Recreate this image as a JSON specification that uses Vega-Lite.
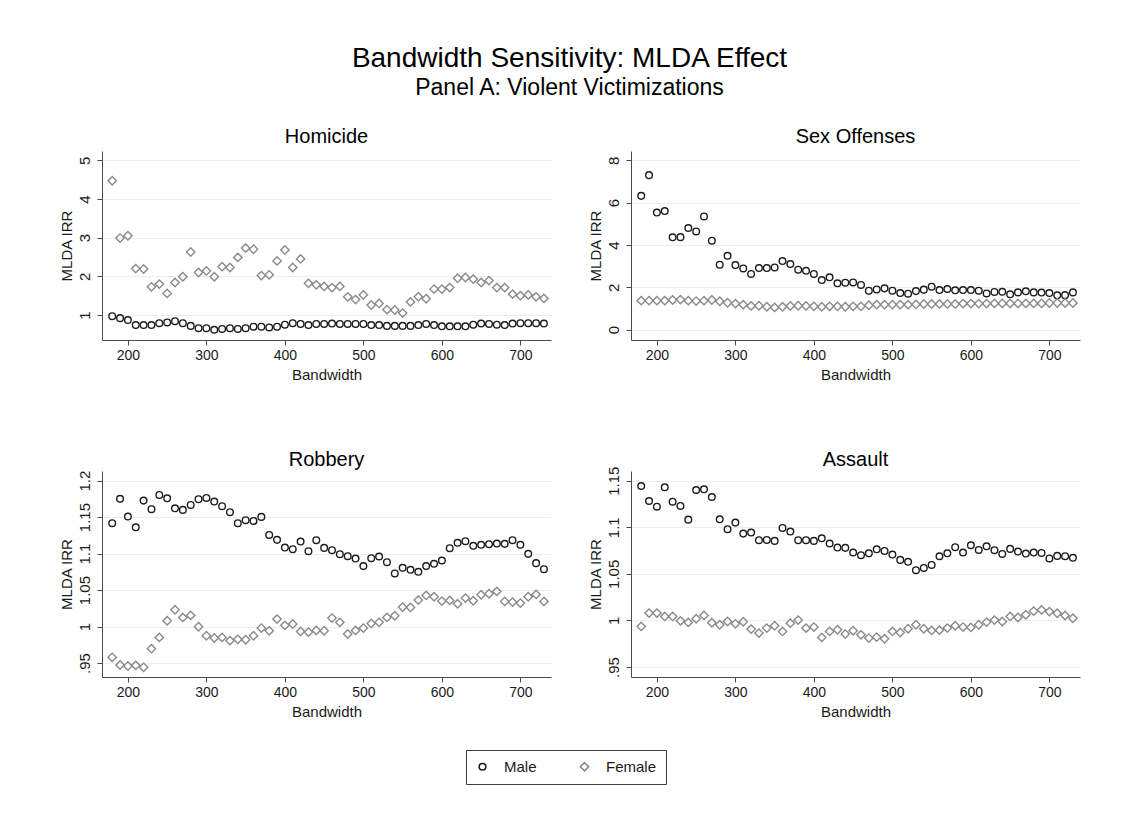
{
  "$schema": "https://vega.github.io/schema/vega-lite/v6.json",
  "background": "white",
  "padding": {"left": 59, "top": 44, "right": 30, "bottom": 20},
  "title": {
    "text": "Bandwidth Sensitivity: MLDA Effect",
    "subtitle": "Panel A: Violent Victimizations",
    "anchor": "middle",
    "fontSize": 28,
    "subtitleFontSize": 23,
    "subtitlePadding": 4,
    "offset": 27
  },
  "datasets": {
    "irr": [
      {"crime": "Homicide", "bw": 180, "Male": 0.97, "Female": 4.47},
      {"crime": "Homicide", "bw": 190, "Male": 0.92, "Female": 2.99},
      {"crime": "Homicide", "bw": 200, "Male": 0.87, "Female": 3.05},
      {"crime": "Homicide", "bw": 210, "Male": 0.74, "Female": 2.20},
      {"crime": "Homicide", "bw": 220, "Male": 0.74, "Female": 2.19},
      {"crime": "Homicide", "bw": 230, "Male": 0.74, "Female": 1.73},
      {"crime": "Homicide", "bw": 240, "Male": 0.79, "Female": 1.80},
      {"crime": "Homicide", "bw": 250, "Male": 0.81, "Female": 1.56},
      {"crime": "Homicide", "bw": 260, "Male": 0.84, "Female": 1.84},
      {"crime": "Homicide", "bw": 270, "Male": 0.79, "Female": 1.99},
      {"crime": "Homicide", "bw": 280, "Male": 0.72, "Female": 2.63},
      {"crime": "Homicide", "bw": 290, "Male": 0.66, "Female": 2.10},
      {"crime": "Homicide", "bw": 300, "Male": 0.66, "Female": 2.14},
      {"crime": "Homicide", "bw": 310, "Male": 0.62, "Female": 1.99},
      {"crime": "Homicide", "bw": 320, "Male": 0.64, "Female": 2.25},
      {"crime": "Homicide", "bw": 330, "Male": 0.66, "Female": 2.23},
      {"crime": "Homicide", "bw": 340, "Male": 0.64, "Female": 2.49},
      {"crime": "Homicide", "bw": 350, "Male": 0.66, "Female": 2.73},
      {"crime": "Homicide", "bw": 360, "Male": 0.70, "Female": 2.70},
      {"crime": "Homicide", "bw": 370, "Male": 0.70, "Female": 2.02},
      {"crime": "Homicide", "bw": 380, "Male": 0.68, "Female": 2.04},
      {"crime": "Homicide", "bw": 390, "Male": 0.70, "Female": 2.40},
      {"crime": "Homicide", "bw": 400, "Male": 0.75, "Female": 2.68},
      {"crime": "Homicide", "bw": 410, "Male": 0.79, "Female": 2.23},
      {"crime": "Homicide", "bw": 420, "Male": 0.77, "Female": 2.45},
      {"crime": "Homicide", "bw": 430, "Male": 0.74, "Female": 1.82},
      {"crime": "Homicide", "bw": 440, "Male": 0.77, "Female": 1.78},
      {"crime": "Homicide", "bw": 450, "Male": 0.77, "Female": 1.74},
      {"crime": "Homicide", "bw": 460, "Male": 0.78, "Female": 1.71},
      {"crime": "Homicide", "bw": 470, "Male": 0.77, "Female": 1.74},
      {"crime": "Homicide", "bw": 480, "Male": 0.77, "Female": 1.47},
      {"crime": "Homicide", "bw": 490, "Male": 0.77, "Female": 1.40},
      {"crime": "Homicide", "bw": 500, "Male": 0.77, "Female": 1.52},
      {"crime": "Homicide", "bw": 510, "Male": 0.74, "Female": 1.26},
      {"crime": "Homicide", "bw": 520, "Male": 0.74, "Female": 1.30},
      {"crime": "Homicide", "bw": 530, "Male": 0.72, "Female": 1.14},
      {"crime": "Homicide", "bw": 540, "Male": 0.72, "Female": 1.13},
      {"crime": "Homicide", "bw": 550, "Male": 0.72, "Female": 1.05},
      {"crime": "Homicide", "bw": 560, "Male": 0.72, "Female": 1.34},
      {"crime": "Homicide", "bw": 570, "Male": 0.74, "Female": 1.47},
      {"crime": "Homicide", "bw": 580, "Male": 0.77, "Female": 1.42},
      {"crime": "Homicide", "bw": 590, "Male": 0.74, "Female": 1.67},
      {"crime": "Homicide", "bw": 600, "Male": 0.71, "Female": 1.67},
      {"crime": "Homicide", "bw": 610, "Male": 0.71, "Female": 1.71},
      {"crime": "Homicide", "bw": 620, "Male": 0.71, "Female": 1.95},
      {"crime": "Homicide", "bw": 630, "Male": 0.71, "Female": 1.97},
      {"crime": "Homicide", "bw": 640, "Male": 0.75, "Female": 1.93},
      {"crime": "Homicide", "bw": 650, "Male": 0.78, "Female": 1.84},
      {"crime": "Homicide", "bw": 660, "Male": 0.77, "Female": 1.89},
      {"crime": "Homicide", "bw": 670, "Male": 0.75, "Female": 1.71},
      {"crime": "Homicide", "bw": 680, "Male": 0.74, "Female": 1.71},
      {"crime": "Homicide", "bw": 690, "Male": 0.78, "Female": 1.54},
      {"crime": "Homicide", "bw": 700, "Male": 0.79, "Female": 1.50},
      {"crime": "Homicide", "bw": 710, "Male": 0.79, "Female": 1.52},
      {"crime": "Homicide", "bw": 720, "Male": 0.79, "Female": 1.47},
      {"crime": "Homicide", "bw": 730, "Male": 0.78, "Female": 1.43},

      {"crime": "Sex Offenses", "bw": 180, "Male": 6.32, "Female": 1.37},
      {"crime": "Sex Offenses", "bw": 190, "Male": 7.30, "Female": 1.37},
      {"crime": "Sex Offenses", "bw": 200, "Male": 5.53, "Female": 1.37},
      {"crime": "Sex Offenses", "bw": 210, "Male": 5.60, "Female": 1.37},
      {"crime": "Sex Offenses", "bw": 220, "Male": 4.36, "Female": 1.40},
      {"crime": "Sex Offenses", "bw": 230, "Male": 4.37, "Female": 1.42},
      {"crime": "Sex Offenses", "bw": 240, "Male": 4.80, "Female": 1.37},
      {"crime": "Sex Offenses", "bw": 250, "Male": 4.64, "Female": 1.35},
      {"crime": "Sex Offenses", "bw": 260, "Male": 5.35, "Female": 1.37},
      {"crime": "Sex Offenses", "bw": 270, "Male": 4.20, "Female": 1.40},
      {"crime": "Sex Offenses", "bw": 280, "Male": 3.07, "Female": 1.34},
      {"crime": "Sex Offenses", "bw": 290, "Male": 3.49, "Female": 1.27},
      {"crime": "Sex Offenses", "bw": 300, "Male": 3.05, "Female": 1.23},
      {"crime": "Sex Offenses", "bw": 310, "Male": 2.89, "Female": 1.18},
      {"crime": "Sex Offenses", "bw": 320, "Male": 2.63, "Female": 1.12},
      {"crime": "Sex Offenses", "bw": 330, "Male": 2.91, "Female": 1.13},
      {"crime": "Sex Offenses", "bw": 340, "Male": 2.91, "Female": 1.08},
      {"crime": "Sex Offenses", "bw": 350, "Male": 2.94, "Female": 1.05},
      {"crime": "Sex Offenses", "bw": 360, "Male": 3.24, "Female": 1.08},
      {"crime": "Sex Offenses", "bw": 370, "Male": 3.10, "Female": 1.12},
      {"crime": "Sex Offenses", "bw": 380, "Male": 2.83, "Female": 1.13},
      {"crime": "Sex Offenses", "bw": 390, "Male": 2.78, "Female": 1.12},
      {"crime": "Sex Offenses", "bw": 400, "Male": 2.63, "Female": 1.10},
      {"crime": "Sex Offenses", "bw": 410, "Male": 2.34, "Female": 1.08},
      {"crime": "Sex Offenses", "bw": 420, "Male": 2.47, "Female": 1.10},
      {"crime": "Sex Offenses", "bw": 430, "Male": 2.19, "Female": 1.10},
      {"crime": "Sex Offenses", "bw": 440, "Male": 2.22, "Female": 1.08},
      {"crime": "Sex Offenses", "bw": 450, "Male": 2.23, "Female": 1.10},
      {"crime": "Sex Offenses", "bw": 460, "Male": 2.11, "Female": 1.10},
      {"crime": "Sex Offenses", "bw": 470, "Male": 1.84, "Female": 1.15},
      {"crime": "Sex Offenses", "bw": 480, "Male": 1.90, "Female": 1.18},
      {"crime": "Sex Offenses", "bw": 490, "Male": 1.95, "Female": 1.18},
      {"crime": "Sex Offenses", "bw": 500, "Male": 1.84, "Female": 1.18},
      {"crime": "Sex Offenses", "bw": 510, "Male": 1.73, "Female": 1.18},
      {"crime": "Sex Offenses", "bw": 520, "Male": 1.70, "Female": 1.18},
      {"crime": "Sex Offenses", "bw": 530, "Male": 1.82, "Female": 1.19},
      {"crime": "Sex Offenses", "bw": 540, "Male": 1.89, "Female": 1.21},
      {"crime": "Sex Offenses", "bw": 550, "Male": 2.03, "Female": 1.21},
      {"crime": "Sex Offenses", "bw": 560, "Male": 1.87, "Female": 1.21},
      {"crime": "Sex Offenses", "bw": 570, "Male": 1.92, "Female": 1.21},
      {"crime": "Sex Offenses", "bw": 580, "Male": 1.86, "Female": 1.21},
      {"crime": "Sex Offenses", "bw": 590, "Male": 1.87, "Female": 1.23},
      {"crime": "Sex Offenses", "bw": 600, "Male": 1.87, "Female": 1.23},
      {"crime": "Sex Offenses", "bw": 610, "Male": 1.84, "Female": 1.23},
      {"crime": "Sex Offenses", "bw": 620, "Male": 1.71, "Female": 1.23},
      {"crime": "Sex Offenses", "bw": 630, "Male": 1.78, "Female": 1.24},
      {"crime": "Sex Offenses", "bw": 640, "Male": 1.79, "Female": 1.24},
      {"crime": "Sex Offenses", "bw": 650, "Male": 1.67, "Female": 1.24},
      {"crime": "Sex Offenses", "bw": 660, "Male": 1.76, "Female": 1.24},
      {"crime": "Sex Offenses", "bw": 670, "Male": 1.81, "Female": 1.24},
      {"crime": "Sex Offenses", "bw": 680, "Male": 1.76, "Female": 1.24},
      {"crime": "Sex Offenses", "bw": 690, "Male": 1.75, "Female": 1.24},
      {"crime": "Sex Offenses", "bw": 700, "Male": 1.73, "Female": 1.26},
      {"crime": "Sex Offenses", "bw": 710, "Male": 1.62, "Female": 1.26},
      {"crime": "Sex Offenses", "bw": 720, "Male": 1.63, "Female": 1.26},
      {"crime": "Sex Offenses", "bw": 730, "Male": 1.76, "Female": 1.26},

      {"crime": "Robbery", "bw": 180, "Male": 1.1416, "Female": 0.9578},
      {"crime": "Robbery", "bw": 190, "Male": 1.1750, "Female": 0.9473},
      {"crime": "Robbery", "bw": 200, "Male": 1.1507, "Female": 0.9459},
      {"crime": "Robbery", "bw": 210, "Male": 1.1360, "Female": 0.9468},
      {"crime": "Robbery", "bw": 220, "Male": 1.1726, "Female": 0.9441},
      {"crime": "Robbery", "bw": 230, "Male": 1.1608, "Female": 0.9696},
      {"crime": "Robbery", "bw": 240, "Male": 1.1804, "Female": 0.9851},
      {"crime": "Robbery", "bw": 250, "Male": 1.1758, "Female": 1.0079},
      {"crime": "Robbery", "bw": 260, "Male": 1.1621, "Female": 1.0230},
      {"crime": "Robbery", "bw": 270, "Male": 1.1599, "Female": 1.0125},
      {"crime": "Robbery", "bw": 280, "Male": 1.1667, "Female": 1.0152},
      {"crime": "Robbery", "bw": 290, "Male": 1.1745, "Female": 0.9997},
      {"crime": "Robbery", "bw": 300, "Male": 1.1763, "Female": 0.9874},
      {"crime": "Robbery", "bw": 310, "Male": 1.1713, "Female": 0.9842},
      {"crime": "Robbery", "bw": 320, "Male": 1.1649, "Female": 0.9851},
      {"crime": "Robbery", "bw": 330, "Male": 1.1567, "Female": 0.9806},
      {"crime": "Robbery", "bw": 340, "Male": 1.1416, "Female": 0.9824},
      {"crime": "Robbery", "bw": 350, "Male": 1.1457, "Female": 0.9819},
      {"crime": "Robbery", "bw": 360, "Male": 1.1448, "Female": 0.9874},
      {"crime": "Robbery", "bw": 370, "Male": 1.1503, "Female": 0.9979},
      {"crime": "Robbery", "bw": 380, "Male": 1.1256, "Female": 0.9942},
      {"crime": "Robbery", "bw": 390, "Male": 1.1188, "Female": 1.0102},
      {"crime": "Robbery", "bw": 400, "Male": 1.1083, "Female": 1.0016},
      {"crime": "Robbery", "bw": 410, "Male": 1.1060, "Female": 1.0034},
      {"crime": "Robbery", "bw": 420, "Male": 1.1165, "Female": 0.9933},
      {"crime": "Robbery", "bw": 430, "Male": 1.1033, "Female": 0.9924},
      {"crime": "Robbery", "bw": 440, "Male": 1.1183, "Female": 0.9947},
      {"crime": "Robbery", "bw": 450, "Male": 1.1078, "Female": 0.9942},
      {"crime": "Robbery", "bw": 460, "Male": 1.1047, "Female": 1.0116},
      {"crime": "Robbery", "bw": 470, "Male": 1.0992, "Female": 1.0057},
      {"crime": "Robbery", "bw": 480, "Male": 1.0964, "Female": 0.9897},
      {"crime": "Robbery", "bw": 490, "Male": 1.0932, "Female": 0.9947},
      {"crime": "Robbery", "bw": 500, "Male": 1.0828, "Female": 0.9979},
      {"crime": "Robbery", "bw": 510, "Male": 1.0937, "Female": 1.0043},
      {"crime": "Robbery", "bw": 520, "Male": 1.0960, "Female": 1.0057},
      {"crime": "Robbery", "bw": 530, "Male": 1.0882, "Female": 1.0125},
      {"crime": "Robbery", "bw": 540, "Male": 1.0727, "Female": 1.0148},
      {"crime": "Robbery", "bw": 550, "Male": 1.0805, "Female": 1.0266},
      {"crime": "Robbery", "bw": 560, "Male": 1.0777, "Female": 1.0262},
      {"crime": "Robbery", "bw": 570, "Male": 1.0750, "Female": 1.0362},
      {"crime": "Robbery", "bw": 580, "Male": 1.0828, "Female": 1.0426},
      {"crime": "Robbery", "bw": 590, "Male": 1.0860, "Female": 1.0408},
      {"crime": "Robbery", "bw": 600, "Male": 1.0905, "Female": 1.0349},
      {"crime": "Robbery", "bw": 610, "Male": 1.1074, "Female": 1.0358},
      {"crime": "Robbery", "bw": 620, "Male": 1.1147, "Female": 1.0312},
      {"crime": "Robbery", "bw": 630, "Male": 1.1170, "Female": 1.0390},
      {"crime": "Robbery", "bw": 640, "Male": 1.1106, "Female": 1.0353},
      {"crime": "Robbery", "bw": 650, "Male": 1.1120, "Female": 1.0435},
      {"crime": "Robbery", "bw": 660, "Male": 1.1129, "Female": 1.0449},
      {"crime": "Robbery", "bw": 670, "Male": 1.1138, "Female": 1.0481},
      {"crime": "Robbery", "bw": 680, "Male": 1.1133, "Female": 1.0344},
      {"crime": "Robbery", "bw": 690, "Male": 1.1183, "Female": 1.0335},
      {"crime": "Robbery", "bw": 700, "Male": 1.1120, "Female": 1.0321},
      {"crime": "Robbery", "bw": 710, "Male": 1.0996, "Female": 1.0408},
      {"crime": "Robbery", "bw": 720, "Male": 1.0869, "Female": 1.0440},
      {"crime": "Robbery", "bw": 730, "Male": 1.0786, "Female": 1.0344},

      {"crime": "Assault", "bw": 180, "Male": 1.1443, "Female": 0.9936},
      {"crime": "Assault", "bw": 190, "Male": 1.1282, "Female": 1.0079},
      {"crime": "Assault", "bw": 200, "Male": 1.1221, "Female": 1.0079},
      {"crime": "Assault", "bw": 210, "Male": 1.1429, "Female": 1.0043},
      {"crime": "Assault", "bw": 220, "Male": 1.1275, "Female": 1.0043},
      {"crime": "Assault", "bw": 230, "Male": 1.1229, "Female": 0.9996},
      {"crime": "Assault", "bw": 240, "Male": 1.1082, "Female": 0.9979},
      {"crime": "Assault", "bw": 250, "Male": 1.1400, "Female": 1.0018},
      {"crime": "Assault", "bw": 260, "Male": 1.1407, "Female": 1.0054},
      {"crime": "Assault", "bw": 270, "Male": 1.1325, "Female": 0.9975},
      {"crime": "Assault", "bw": 280, "Male": 1.1086, "Female": 0.9954},
      {"crime": "Assault", "bw": 290, "Male": 1.0979, "Female": 0.9989},
      {"crime": "Assault", "bw": 300, "Male": 1.1050, "Female": 0.9964},
      {"crime": "Assault", "bw": 310, "Male": 1.0932, "Female": 0.9986},
      {"crime": "Assault", "bw": 320, "Male": 1.0943, "Female": 0.9907},
      {"crime": "Assault", "bw": 330, "Male": 1.0861, "Female": 0.9864},
      {"crime": "Assault", "bw": 340, "Male": 1.0864, "Female": 0.9918},
      {"crime": "Assault", "bw": 350, "Male": 1.0854, "Female": 0.9943},
      {"crime": "Assault", "bw": 360, "Male": 1.0993, "Female": 0.9882},
      {"crime": "Assault", "bw": 370, "Male": 1.0954, "Female": 0.9971},
      {"crime": "Assault", "bw": 380, "Male": 1.0861, "Female": 1.0004},
      {"crime": "Assault", "bw": 390, "Male": 1.0861, "Female": 0.9918},
      {"crime": "Assault", "bw": 400, "Male": 1.0854, "Female": 0.9929},
      {"crime": "Assault", "bw": 410, "Male": 1.0882, "Female": 0.9818},
      {"crime": "Assault", "bw": 420, "Male": 1.0825, "Female": 0.9882},
      {"crime": "Assault", "bw": 430, "Male": 1.0782, "Female": 0.9900},
      {"crime": "Assault", "bw": 440, "Male": 1.0779, "Female": 0.9854},
      {"crime": "Assault", "bw": 450, "Male": 1.0729, "Female": 0.9889},
      {"crime": "Assault", "bw": 460, "Male": 1.0700, "Female": 0.9846},
      {"crime": "Assault", "bw": 470, "Male": 1.0721, "Female": 0.9811},
      {"crime": "Assault", "bw": 480, "Male": 1.0764, "Female": 0.9821},
      {"crime": "Assault", "bw": 490, "Male": 1.0746, "Female": 0.9804},
      {"crime": "Assault", "bw": 500, "Male": 1.0707, "Female": 0.9882},
      {"crime": "Assault", "bw": 510, "Male": 1.0650, "Female": 0.9871},
      {"crime": "Assault", "bw": 520, "Male": 1.0629, "Female": 0.9911},
      {"crime": "Assault", "bw": 530, "Male": 1.0539, "Female": 0.9954},
      {"crime": "Assault", "bw": 540, "Male": 1.0564, "Female": 0.9911},
      {"crime": "Assault", "bw": 550, "Male": 1.0596, "Female": 0.9893},
      {"crime": "Assault", "bw": 560, "Male": 1.0689, "Female": 0.9896},
      {"crime": "Assault", "bw": 570, "Male": 1.0721, "Female": 0.9918},
      {"crime": "Assault", "bw": 580, "Male": 1.0786, "Female": 0.9943},
      {"crime": "Assault", "bw": 590, "Male": 1.0729, "Female": 0.9929},
      {"crime": "Assault", "bw": 600, "Male": 1.0807, "Female": 0.9925},
      {"crime": "Assault", "bw": 610, "Male": 1.0757, "Female": 0.9954},
      {"crime": "Assault", "bw": 620, "Male": 1.0796, "Female": 0.9982},
      {"crime": "Assault", "bw": 630, "Male": 1.0754, "Female": 1.0004},
      {"crime": "Assault", "bw": 640, "Male": 1.0714, "Female": 0.9989},
      {"crime": "Assault", "bw": 650, "Male": 1.0768, "Female": 1.0043},
      {"crime": "Assault", "bw": 660, "Male": 1.0739, "Female": 1.0032},
      {"crime": "Assault", "bw": 670, "Male": 1.0718, "Female": 1.0061},
      {"crime": "Assault", "bw": 680, "Male": 1.0729, "Female": 1.0100},
      {"crime": "Assault", "bw": 690, "Male": 1.0725, "Female": 1.0113},
      {"crime": "Assault", "bw": 700, "Male": 1.0665, "Female": 1.0095},
      {"crime": "Assault", "bw": 710, "Male": 1.0693, "Female": 1.0077},
      {"crime": "Assault", "bw": 720, "Male": 1.0690, "Female": 1.0053},
      {"crime": "Assault", "bw": 730, "Male": 1.0672, "Female": 1.0024}
    ]
  },
  "data": {"name": "irr"},
  "vconcat": [
    {
      "hconcat": [
        {
          "title": {"text": "Homicide", "offset": 4.5},
          "width": 449, "height": 189,
          "transform": [{"filter": "datum.crime === 'Homicide'"}, {"fold": ["Male", "Female"], "as": ["sex", "irr"]}],
          "mark": {"type": "point", "filled": false, "strokeWidth": 1.4, "opacity": 1},
          "encoding": {
            "x": {"field": "bw", "type": "quantitative", "title": "Bandwidth", "scale": {"domain": [167, 739], "nice": false, "zero": false}, "axis": {"values": [200, 300, 400, 500, 600, 700], "grid": false}},
            "y": {"field": "irr", "type": "quantitative", "title": "MLDA IRR", "scale": {"domain": [0.355, 5.24], "nice": false, "zero": false}, "axis": {"values": [1, 2, 3, 4, 5]}},
            "shape": {"field": "sex", "type": "nominal", "scale": {"domain": ["Male", "Female"], "range": ["circle", "diamond"]}, "legend": {"title": null}},
            "color": {"field": "sex", "type": "nominal", "scale": {"domain": ["Male", "Female"], "range": ["#1c1c1c", "#8a8a8a"]}, "legend": {"title": null}},
            "size": {"field": "sex", "type": "nominal", "scale": {"domain": ["Male", "Female"], "range": [44, 70]}, "legend": null}
          }
        },
        {
          "title": {"text": "Sex Offenses", "offset": 4.5},
          "width": 449, "height": 189,
          "transform": [{"filter": "datum.crime === 'Sex Offenses'"}, {"fold": ["Male", "Female"], "as": ["sex", "irr"]}],
          "mark": {"type": "point", "filled": false, "strokeWidth": 1.4, "opacity": 1},
          "encoding": {
            "x": {"field": "bw", "type": "quantitative", "title": "Bandwidth", "scale": {"domain": [167, 739], "nice": false, "zero": false}, "axis": {"values": [200, 300, 400, 500, 600, 700], "grid": false}},
            "y": {"field": "irr", "type": "quantitative", "title": "MLDA IRR", "scale": {"domain": [-0.49, 8.44], "nice": false, "zero": false}, "axis": {"values": [0, 2, 4, 6, 8]}},
            "shape": {"field": "sex", "type": "nominal", "scale": {"domain": ["Male", "Female"], "range": ["circle", "diamond"]}, "legend": {"title": null}},
            "color": {"field": "sex", "type": "nominal", "scale": {"domain": ["Male", "Female"], "range": ["#1c1c1c", "#8a8a8a"]}, "legend": {"title": null}},
            "size": {"field": "sex", "type": "nominal", "scale": {"domain": ["Male", "Female"], "range": [44, 70]}, "legend": null}
          }
        }
      ],
      "spacing": 80,
      "bounds": "flush",
      "resolve": {"scale": {"y": "independent"}, "axis": {"y": "independent"}}
    },
    {
      "hconcat": [
        {
          "title": {"text": "Robbery", "offset": 0},
          "width": 449, "height": 206,
          "transform": [{"filter": "datum.crime === 'Robbery'"}, {"fold": ["Male", "Female"], "as": ["sex", "irr"]}],
          "mark": {"type": "point", "filled": false, "strokeWidth": 1.4, "opacity": 1},
          "encoding": {
            "x": {"field": "bw", "type": "quantitative", "title": "Bandwidth", "scale": {"domain": [167, 739], "nice": false, "zero": false}, "axis": {"values": [200, 300, 400, 500, 600, 700], "grid": false}},
            "y": {"field": "irr", "type": "quantitative", "title": "MLDA IRR", "scale": {"domain": [0.9308, 1.2132], "nice": false, "zero": false}, "axis": {"values": [0.95, 1, 1.05, 1.1, 1.15, 1.2], "format": "~g", "labelExpr": "datum.value < 0.99 ? '.95' : datum.label"}},
            "shape": {"field": "sex", "type": "nominal", "scale": {"domain": ["Male", "Female"], "range": ["circle", "diamond"]}, "legend": {"title": null}},
            "color": {"field": "sex", "type": "nominal", "scale": {"domain": ["Male", "Female"], "range": ["#1c1c1c", "#8a8a8a"]}, "legend": {"title": null}},
            "size": {"field": "sex", "type": "nominal", "scale": {"domain": ["Male", "Female"], "range": [44, 70]}, "legend": null}
          }
        },
        {
          "title": {"text": "Assault", "offset": -4},
          "width": 449, "height": 206,
          "transform": [{"filter": "datum.crime === 'Assault'"}, {"fold": ["Male", "Female"], "as": ["sex", "irr"]}],
          "mark": {"type": "point", "filled": false, "strokeWidth": 1.4, "opacity": 1},
          "encoding": {
            "x": {"field": "bw", "type": "quantitative", "title": "Bandwidth", "scale": {"domain": [167, 739], "nice": false, "zero": false}, "axis": {"values": [200, 300, 400, 500, 600, 700], "grid": false}},
            "y": {"field": "irr", "type": "quantitative", "title": "MLDA IRR", "scale": {"domain": [0.9393, 1.1604], "nice": false, "zero": false}, "axis": {"values": [0.95, 1, 1.05, 1.1, 1.15], "format": "~g", "labelExpr": "datum.value < 0.99 ? '.95' : datum.label"}},
            "shape": {"field": "sex", "type": "nominal", "scale": {"domain": ["Male", "Female"], "range": ["circle", "diamond"]}, "legend": {"title": null}},
            "color": {"field": "sex", "type": "nominal", "scale": {"domain": ["Male", "Female"], "range": ["#1c1c1c", "#8a8a8a"]}, "legend": {"title": null}},
            "size": {"field": "sex", "type": "nominal", "scale": {"domain": ["Male", "Female"], "range": [44, 70]}, "legend": null}
          }
        }
      ],
      "spacing": 80,
      "bounds": "flush",
      "resolve": {"scale": {"y": "independent"}, "axis": {"y": "independent"}}
    }
  ],
  "spacing": 68,
  "resolve": {"scale": {"y": "independent"}, "axis": {"y": "independent"}},
  "config": {
    "font": "Liberation Sans",
    "view": {"stroke": null},
    "title": {"fontSize": 20, "fontWeight": "normal", "color": "#000000", "anchor": "middle", "offset": 5, "subtitleColor": "#000000", "subtitleFont": "Liberation Sans"},
    "axis": {
      "domainColor": "#4a4a4a",
      "domainWidth": 1,
      "tickColor": "#4a4a4a",
      "tickSize": 5,
      "labelFontSize": 14,
      "labelColor": "#1a1a1a",
      "titleFontSize": 15,
      "titleFontWeight": "normal",
      "titleColor": "#1a1a1a",
      "gridColor": "#e6eff1",
      "gridWidth": 1
    },
    "axisX": {"labelPadding": 3, "titlePadding": 5},
    "axisY": {"labelAngle": -90, "labelAlign": "center", "labelBaseline": "bottom", "labelFontSize": 15, "labelPadding": 5, "titlePadding": 3, "grid": true},
    "legend": {
      "orient": "none",
      "legendX": 364,
      "legendY": 599,
      "direction": "horizontal",
      "strokeColor": "#404040",
      "padding": 9,
      "labelFontSize": 15,
      "labelColor": "#1a1a1a",
      "symbolSize": 50,
      "symbolStrokeWidth": 1.6,
      "columnPadding": 40,
      "labelOffset": 14
    }
  }
}
